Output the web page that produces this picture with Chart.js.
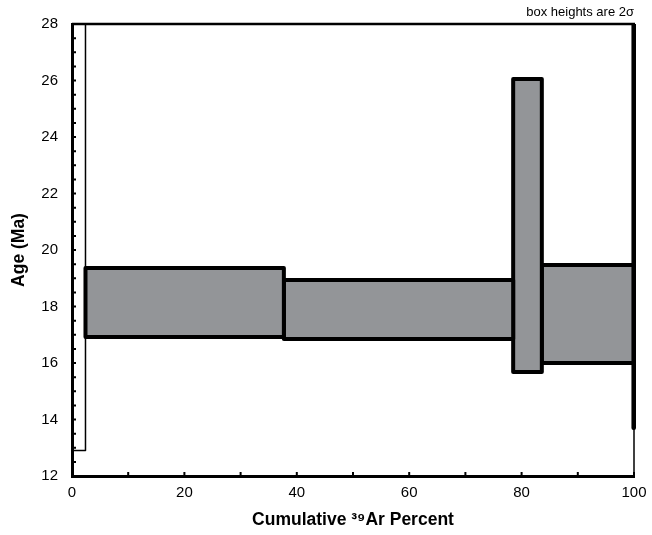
<!DOCTYPE html>
<html>
<head>
<meta charset="utf-8">
<script src="https://cdn.jsdelivr.net/npm/chart.js@4"></script>
<style>
  body { margin: 0; background: #fff; }
  #wrap { width: 652px; height: 535px; }
</style>
</head>
<body>
<div id="wrap"><canvas id="spectrum"></canvas></div>
<script>
// step boundaries (cumulative 39Ar %) and 2 sigma age limits per step
const cumPercent = [0, 2.4, 37.7, 78.5, 83.6, 99.9, 100];
const ageLow = [12.9, 16.92, 16.85, 15.68, 16.0, 13.7];
const ageHigh = [29.5, 19.36, 18.94, 26.05, 19.47, 29.5];
const xTicks = [0, 20, 40, 60, 80, 100];
const yTicks = [12, 14, 16, 18, 20, 22, 24, 26, 28];

const datasets = ageLow.map((lo, i) => {
    const x0 = cumPercent[i], x1 = cumPercent[i + 1], hi = ageHigh[i];
    const first = i === 0;
    return {
        label: 'step ' + (i + 1),
        data: [
            { x: x0, y: lo }, { x: x1, y: lo }, { x: x1, y: hi },
            { x: x0, y: hi }, { x: x0, y: lo }
        ],
        showLine: true,
        fill: first ? false : 'shape',
        backgroundColor: '#939598',
        borderColor: '#000',
        borderWidth: first ? 1.5 : 4,
        borderJoinStyle: 'round',
        pointRadius: 0,
        tension: 0,
        clip: { left: 0, top: 0, right: 3, bottom: 0 }
    };
});

// top/right frame and the small inward tick marks
const frame = {
    id: 'frame',
    beforeDatasetsDraw(chart) {
        const { ctx, chartArea: a } = chart;
        ctx.save();
        ctx.strokeStyle = '#000';
        ctx.lineWidth = 2.5;
        ctx.beginPath();
        ctx.moveTo(a.left, a.top);
        ctx.lineTo(a.right + 1, a.top);
        ctx.stroke();
        ctx.lineWidth = 1.5;
        ctx.beginPath();
        ctx.moveTo(a.right, a.top);
        ctx.lineTo(a.right, a.bottom);
        ctx.stroke();
        ctx.restore();
    },
    afterDatasetsDraw(chart) {
        const { ctx, chartArea: a, scales: { x, y } } = chart;
        ctx.save();
        ctx.strokeStyle = '#000';
        ctx.lineWidth = 2;
        ctx.beginPath();
        y.ticks.forEach(t => {
            const py = y.getPixelForValue(t.value);
            ctx.moveTo(a.left, py);
            ctx.lineTo(a.left + 4, py);
        });
        x.ticks.forEach(t => {
            const px = x.getPixelForValue(t.value);
            ctx.moveTo(px, a.bottom);
            ctx.lineTo(px, a.bottom - 4);
        });
        ctx.stroke();
        ctx.restore();
    }
};

new Chart(document.getElementById('spectrum'), {
    type: 'scatter',
    data: { datasets },
    plugins: [frame],
    options: {
        responsive: true,
        maintainAspectRatio: false,
        animation: false,
        layout: { padding: { top: 0, right: 18, bottom: 0, left: 0 } },
        plugins: {
            legend: { display: false },
            tooltip: { enabled: false },
            title: {
                display: true,
                text: 'box heights are 2\u03c3',
                align: 'end',
                color: '#000',
                font: { family: 'Liberation Sans, Arial, sans-serif', size: 13, weight: 'normal', lineHeight: 1.2 },
                padding: { top: 5, bottom: 3.4 }
            }
        },
        scales: {
            x: {
                type: 'linear',
                min: 0,
                max: 100,
                afterFit: s => { s.height = 59; s.paddingLeft = 0; s.paddingRight = 0; },
                grid: { display: false, drawTicks: false },
                border: { display: true, color: '#000', width: 3 },
                ticks: {
                    stepSize: 10,
                    autoSkip: false,
                    maxRotation: 0,
                    padding: 8,
                    color: '#000',
                    font: { family: 'Liberation Sans, Arial, sans-serif', size: 15 },
                    callback: v => xTicks.includes(v) ? String(v) : ''
                },
                title: {
                    display: true,
                    text: 'Cumulative \u00b3\u2079Ar Percent',
                    color: '#000',
                    font: { family: 'Liberation Sans, Arial, sans-serif', size: 17.5, weight: 'bold' },
                    padding: { top: 0, bottom: 4 }
                }
            },
            y: {
                type: 'linear',
                min: 12,
                max: 28,
                afterFit: s => { s.width = 72; },
                grid: { display: false, drawTicks: false },
                border: { display: true, color: '#000', width: 3 },
                ticks: {
                    stepSize: 0.5,
                    autoSkip: false,
                    padding: 14,
                    color: '#000',
                    font: { family: 'Liberation Sans, Arial, sans-serif', size: 15 },
                    callback: v => yTicks.includes(v) ? String(v) : ''
                },
                title: {
                    display: true,
                    text: 'Age (Ma)',
                    color: '#000',
                    font: { family: 'Liberation Sans, Arial, sans-serif', size: 17.5, weight: 'bold' },
                    padding: { top: 9, bottom: 0 }
                }
            }
        }
    }
});
</script>
</body>
</html>
